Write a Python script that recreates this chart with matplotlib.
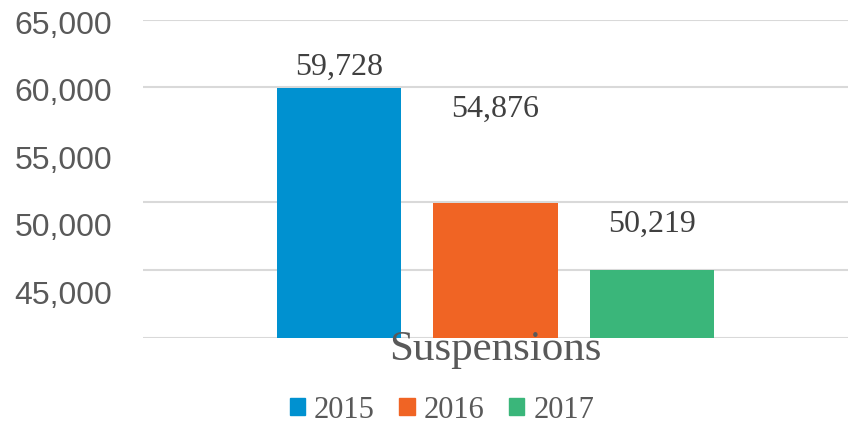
import numpy as np
import matplotlib
matplotlib.use('Agg')
import matplotlib.pyplot as plt
from matplotlib.patches import Patch

years = ['2015', '2016', '2017']
labels = ['59,728', '54,876', '50,219']
# bar tops as drawn, read against the tick labels
heights = [60150, 51600, 46600]
colors = ['#0091D0', '#F06424', '#3AB67A']
label_gap = [6, 79, 32]  # px between bar top and its label
grid_vals = [65150, 60180, 51650, 46620, 41600]
yticks = [45000, 50000, 55000, 60000, 65000]
category = 'Suspensions'

fig = plt.figure(figsize=(8.51, 4.25), dpi=100)
ax = fig.add_axes([143/851, 1-338/425, 705/851, 318/425])

base = 41600
width = 0.176
step = 0.222
x = (np.arange(len(years)) - 1) * step
for xi, h, c, lab, gap, yr in zip(x, heights, colors, labels, label_gap, years):
    ax.bar(xi, h - base, bottom=base, width=width, color=c, label=yr, zorder=2)
    ax.annotate(lab, (xi, h), xytext=(0, gap * 0.72), textcoords='offset points',
                ha='center', va='bottom', fontsize=23, family='Liberation Serif',
                color='#404040')

for g in grid_vals:
    ax.axhline(g, color='#D9D9D9', lw=1.5, zorder=1)

ax.set_xlim(-0.5, 0.5)
ax.set_ylim(base, 65150)
ax.set_yticks(yticks)
ax.set_yticklabels(['{:,}'.format(v) for v in yticks], family='Liberation Sans',
                   fontsize=23, color='#595959')
ax.tick_params(axis='y', length=0, pad=22)
ax.set_xticks([])
for s in ax.spines.values():
    s.set_visible(False)

fig.text(495/851, 1-350/425, category, ha='center', va='center', fontsize=31,
         family='Liberation Serif', color='#595959')

handles = [Patch(color=c, label=y) for c, y in zip(colors, years)]
fig.legend(handles=handles, loc='center', bbox_to_anchor=(442/851, 1-410/425), ncol=3,
           frameon=False, prop={'family': 'Liberation Serif', 'size': 22},
           labelcolor='#595959', handlelength=0.5, handleheight=0.5,
           handletextpad=0.3, columnspacing=0.8)

fig.savefig('out.png', dpi=100)
